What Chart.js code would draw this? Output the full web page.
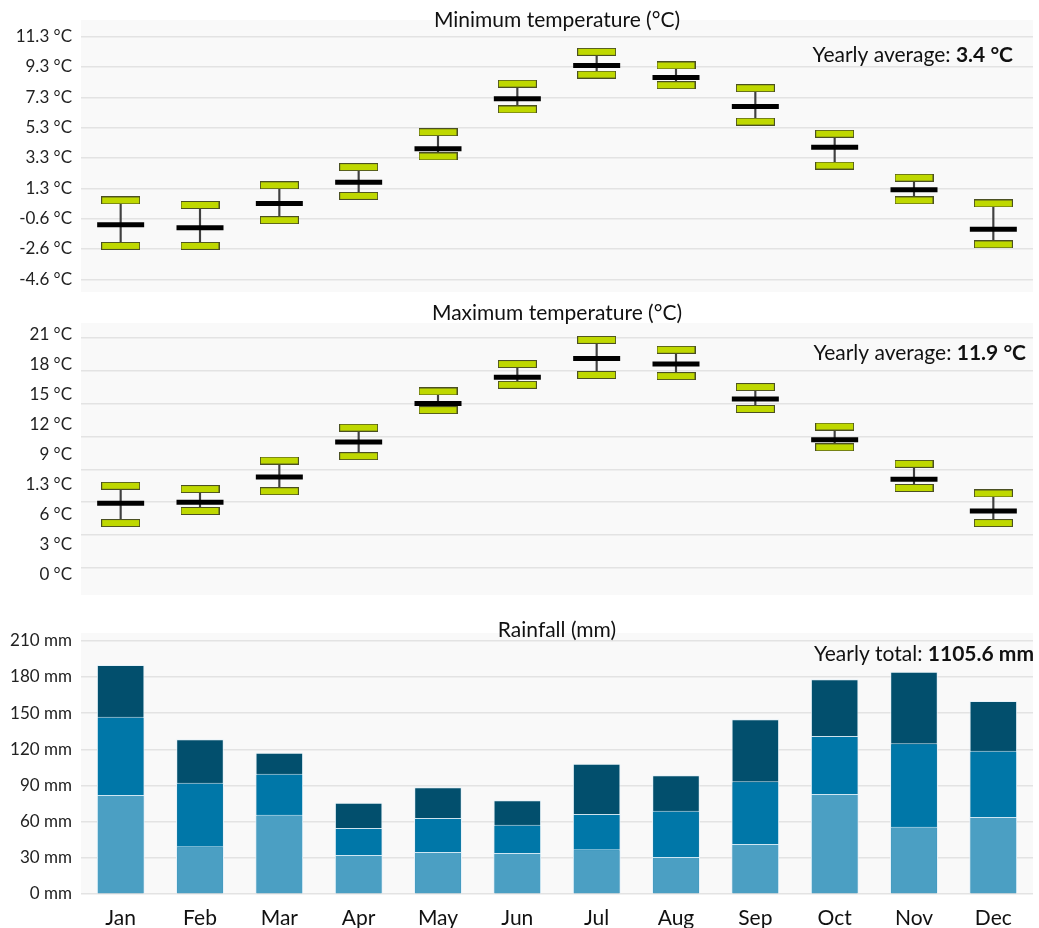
<!DOCTYPE html>
<html>
<head>
<meta charset="utf-8">
<script src="https://cdn.jsdelivr.net/npm/chart.js@4.4.1/dist/chart.umd.min.js"></script>
<style>
  html, body { margin: 0; padding: 0; background: #fff; width: 1039px; height: 928px; overflow: hidden; }
  canvas { position: absolute; left: 0; }
</style>
</head>
<body>
<canvas id="cMin" width="1039" height="300" style="top:0px"></canvas>
<canvas id="cMax" width="1039" height="300" style="top:300px"></canvas>
<canvas id="cRain" width="1039" height="340" style="top:600px"></canvas>
<script>
// ---- data ----
const months = ['Jan', 'Feb', 'Mar', 'Apr', 'May', 'Jun', 'Jul', 'Aug', 'Sep', 'Oct', 'Nov', 'Dec'];

// Minimum temperature (°C): lowest, mean and highest monthly value
const minTempLow  = [-2.4, -2.4, -0.7, 0.9, 3.5, 6.6, 8.9, 8.2, 5.8, 2.9, 0.6, -2.3];
const minTempMean = [-1.0, -1.2, 0.4, 1.8, 4.0, 7.3, 9.5, 8.7, 6.8, 4.1, 1.3, -1.3];
const minTempHigh = [0.6, 0.3, 1.6, 2.8, 5.1, 8.3, 10.4, 9.5, 8.0, 5.0, 2.1, 0.4];
const minGridValues = [-4.6, -2.6, -0.6, 1.4, 3.4, 5.4, 7.4, 9.4, 11.4];
const minTickLabels = ['-4.6 °C', '-2.6 °C', '-0.6 °C', '1.3 °C', '3.3 °C', '5.3 °C', '7.3 °C', '9.3 °C', '11.3 °C'];

// Maximum temperature (°C)
const maxTempLow  = [4.1, 5.2, 7.0, 10.2, 14.4, 16.7, 17.6, 17.5, 14.5, 11.0, 7.3, 4.1];
const maxTempMean = [5.9, 6.0, 8.3, 11.5, 15.0, 17.4, 19.1, 18.6, 15.4, 11.7, 8.1, 5.2];
const maxTempHigh = [7.5, 7.2, 9.8, 12.8, 16.1, 18.6, 20.8, 19.9, 16.5, 12.9, 9.5, 6.8];
const maxGridValues = [0, 3, 6, 9, 12, 15, 18, 21];
const maxTickLabels = ['0 °C', '3 °C', '6 °C', '1.3 °C', '9 °C', '12 °C', '15 °C', '18 °C', '21 °C'];

// Rainfall (mm): driest, average and wettest month
const rainMin = [82.1, 39.5, 65.8, 32.3, 34.8, 34.0, 37.1, 30.7, 41.5, 82.9, 55.8, 63.8];
const rainAvg = [147.0, 92.3, 99.8, 54.7, 63.0, 57.5, 66.3, 69.1, 93.4, 131.0, 125.0, 118.8];
const rainMax = [189.9, 128.3, 117.2, 75.7, 88.5, 77.7, 108.0, 98.4, 144.9, 178.0, 184.3, 160.0];
const rainTicks = [0, 30, 60, 90, 120, 150, 180, 210];

// ---- styling helpers ----
const FONT = 'Lato, "Open Sans", "DejaVu Sans", sans-serif';
const GRID = { color: '#e3e3e3', lineWidth: 1.5, drawTicks: false };
const TICK_FONT = { family: FONT, size: 17 };

// keep the plot area exactly where the layout padding puts it
function fixY(width) {
  return s => { s.width = width; s.paddingTop = 0; s.paddingBottom = 0; };
}

// small lime range marker used as point style
function makeRangeBox() {
  const c = document.createElement('canvas');
  c.width = 39; c.height = 8;
  const g = c.getContext('2d');
  g.fillStyle = '#bfd800';
  g.fillRect(0, 0, 39, 8);
  g.strokeStyle = '#4b5022';
  g.lineWidth = 1;
  g.strokeRect(0.5, 0.5, 38, 7);
  return c;
}
const RANGE_BOX = makeRangeBox();

// panel background, heading and yearly note
const panelText = {
  id: 'panelText',
  beforeDraw(chart, args, o) {
    const a = chart.chartArea, ctx = chart.ctx;
    ctx.save();
    ctx.fillStyle = '#f9f9f9';
    ctx.fillRect(a.left, a.top, a.right - a.left, a.bottom - a.top);
    ctx.restore();
  },
  afterDraw(chart, args, o) {
    const a = chart.chartArea, ctx = chart.ctx;
    ctx.save();
    ctx.fillStyle = '#111';
    ctx.textBaseline = 'middle';
    ctx.font = `${o.titleSize}px ${FONT}`;
    ctx.textAlign = 'center';
    ctx.fillText(o.title, (a.left + a.right) / 2, o.titleY);
    ctx.textAlign = 'right';
    ctx.font = `bold ${o.noteSize}px ${FONT}`;
    const bw = ctx.measureText(o.noteBold).width;
    ctx.fillText(o.noteBold, o.noteRight, o.noteY);
    ctx.font = `${o.noteSize}px ${FONT}`;
    ctx.fillText(o.note, o.noteRight - bw, o.noteY);
    ctx.restore();
  }
};

function tempDatasets(low, mean, high) {
  return [
    { type: 'line', data: mean, showLine: false, pointStyle: 'line', pointRadius: 23.5,
      pointBorderWidth: 5, pointBorderColor: '#000', pointBackgroundColor: '#000', order: 1 },
    { type: 'line', data: high, showLine: false, pointStyle: RANGE_BOX, pointRadius: 4, order: 2 },
    { type: 'line', data: low, showLine: false, pointStyle: RANGE_BOX, pointRadius: 4, order: 2 },
    { type: 'bar', data: low.map((v, i) => [v, high[i]]), backgroundColor: '#404040',
      barThickness: 1.5, order: 3 }
  ];
}

const common = {
  responsive: false,
  animation: false,
  events: [],
  plugins: { legend: { display: false }, tooltip: { enabled: false } }
};

// ---- Minimum temperature ----
new Chart(document.getElementById('cMin'), {
  type: 'bar',
  data: { labels: months, datasets: tempDatasets(minTempLow, minTempMean, minTempHigh) },
  plugins: [panelText],
  options: {
    ...common,
    layout: { autoPadding: false, padding: { top: 20, bottom: 8, left: 0, right: 6 } },
    plugins: { ...common.plugins,
      panelText: { title: 'Minimum temperature (°C)', titleY: 20, titleSize: 21,
        note: 'Yearly average: ', noteBold: '3.4 °C', noteRight: 1013, noteY: 55, noteSize: 21 } },
    scales: {
      x: { display: false, offset: true },
      y: {
        min: -5.44, max: 12.5,
        afterBuildTicks: s => { s.ticks = minGridValues.map(v => ({ value: v })); },
        ticks: { callback: (v, i) => minTickLabels[i], font: TICK_FONT, color: '#222', padding: 9 },
        grid: GRID, border: { display: false },
        afterFit: fixY(81)
      }
    }
  }
});

// ---- Maximum temperature ----
new Chart(document.getElementById('cMax'), {
  type: 'bar',
  data: { labels: months, datasets: tempDatasets(maxTempLow, maxTempMean, maxTempHigh) },
  plugins: [panelText],
  options: {
    ...common,
    layout: { autoPadding: false, padding: { top: 23, bottom: 5, left: 0, right: 6 } },
    plugins: { ...common.plugins,
      panelText: { title: 'Maximum temperature (°C)', titleY: 13, titleSize: 21,
        note: 'Yearly average: ', noteBold: '11.9 °C', noteRight: 1026, noteY: 53, noteSize: 21 } },
    scales: {
      x: { display: false, offset: true },
      y: {
        min: -2.46, max: 22.34,
        afterBuildTicks: s => { s.ticks = maxGridValues.map(v => ({ value: v })); },
        ticks: { display: false },
        grid: GRID, border: { display: false },
        afterFit: fixY(0)
      },
      yl: {
        position: 'left',
        min: -0.667, max: 8.4,
        afterBuildTicks: s => { s.ticks = maxTickLabels.map((t, i) => ({ value: i })); },
        ticks: { callback: (v, i) => maxTickLabels[i], font: TICK_FONT, color: '#222', padding: 9 },
        grid: { display: false, drawTicks: false }, border: { display: false },
        afterFit: fixY(81)
      }
    }
  }
});

// ---- Rainfall ----
const barStyle = { borderColor: 'rgba(228,242,249,0.9)', borderWidth: 1,
  categoryPercentage: 0.6, barPercentage: 1 };
new Chart(document.getElementById('cRain'), {
  type: 'bar',
  data: {
    labels: months,
    datasets: [
      { label: 'Driest', data: rainMin, backgroundColor: '#4b9fc3', order: 1, ...barStyle },
      { label: 'Average', data: rainAvg, backgroundColor: '#0077a8', order: 2, ...barStyle },
      { label: 'Wettest', data: rainMax, backgroundColor: '#024f6d', order: 3, ...barStyle }
    ]
  },
  plugins: [panelText],
  options: {
    ...common,
    layout: { padding: { top: 33, bottom: 0, left: 0, right: 6 } },
    plugins: { ...common.plugins,
      panelText: { title: 'Rainfall (mm)', titleY: 30, titleSize: 21,
        note: 'Yearly total: ', noteBold: '1105.6 mm', noteRight: 1034, noteY: 54, noteSize: 21 } },
    scales: {
      x: {
        stacked: true,
        grid: { display: false, drawTicks: false }, border: { display: false },
        ticks: { font: { family: FONT, size: 21 }, color: '#111', padding: 12 },
        afterFit: s => { s.height = 46; }
      },
      y: {
        stacked: false,
        min: 0, max: 216.4,
        afterBuildTicks: s => { s.ticks = rainTicks.map(v => ({ value: v })); },
        ticks: { callback: v => v + ' mm', font: TICK_FONT, color: '#222', padding: 9 },
        grid: GRID, border: { display: false },
        afterFit: fixY(81)
      }
    }
  }
});
</script>
</body>
</html>
